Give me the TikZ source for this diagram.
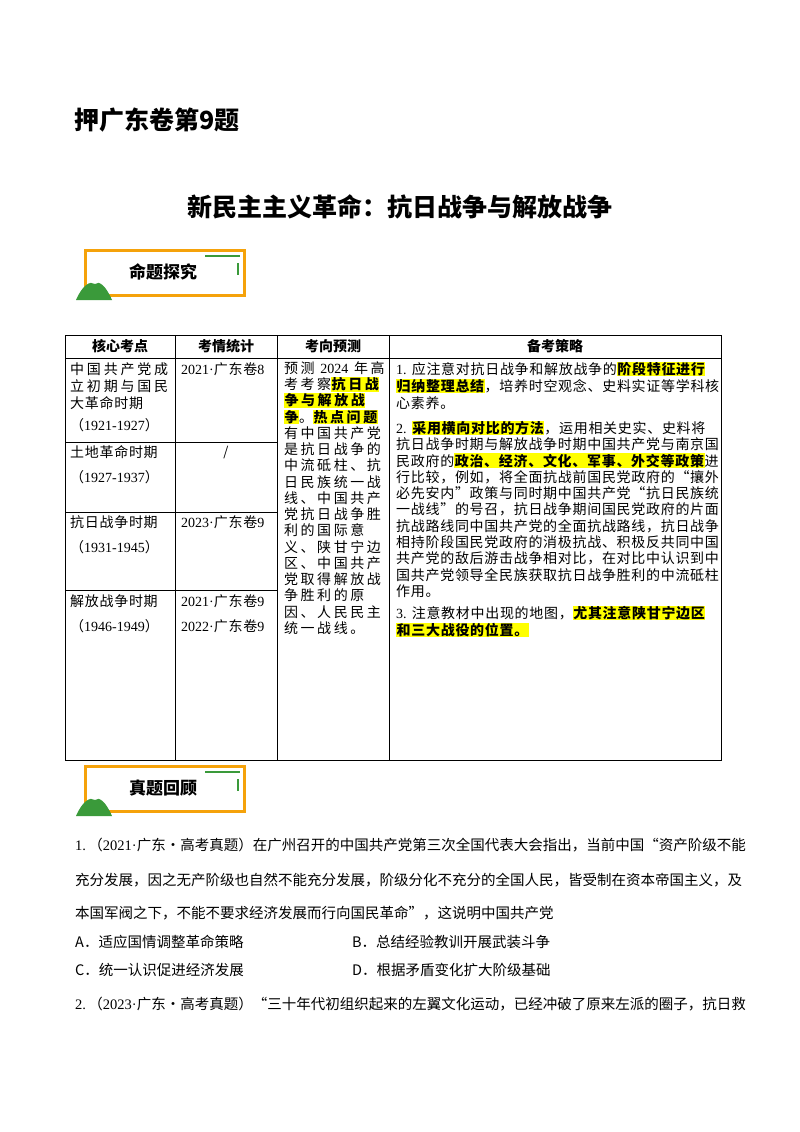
\documentclass[tikz,border=0pt]{standalone}
\usepackage{fontspec}
\setmainfont{Noto Sans CJK SC}
\newfontfamily\serifnum{Liberation Serif}
\newfontfamily\tfa[LetterSpace=5]{Noto Sans CJK SC}
\newfontfamily\tfb[LetterSpace=18]{Noto Sans CJK SC}
\newfontfamily\tfc[LetterSpace=20]{Noto Sans CJK SC}
\usepackage{xcolor}
\definecolor{badgeorange}{HTML}{F5A20A}
\definecolor{badgegreen}{HTML}{3A9A3A}
\definecolor{hly}{HTML}{FFFF00}
\newcommand{\hy}[1]{{\setlength{\fboxsep}{0.5pt}\colorbox{hly}{\bfseries #1}}}
\tikzset{
  tl/.style={anchor=west,inner sep=0pt,font=\fontsize{14}{16}\selectfont\tfa},
  tlb/.style={anchor=west,inner sep=0pt,font=\fontsize{14}{16}\selectfont\tfb},
  tlc/.style={anchor=west,inner sep=0pt,font=\fontsize{14}{16}\selectfont\tfc},
  bl/.style={anchor=west,inner sep=0pt,font=\fontsize{14.5}{18}\selectfont},
  hd/.style={anchor=center,inner sep=0pt,font=\fontsize{14}{16}\selectfont\bfseries},
  grid/.style={draw=black,line width=0.7pt},
}
\begin{document}
\begin{tikzpicture}[x=1pt,y=-1pt]
\useasboundingbox (0,0) rectangle (800,1132);
\fill[white] (0,0) rectangle (800,1132);
\node[anchor=west,inner sep=0pt,font=\fontsize{25}{30}\selectfont\bfseries] (title) at (74,120) {押广东卷第9题};
\node[anchor=center,inner sep=0pt,font=\fontsize{25}{30}\selectfont\bfseries] (sub) at (400,207) {新民主主义革命：抗日战争与解放战争};
% badges
\foreach \y/\t/\n in {250/命题探究/b1,766/真题回顾/b2}{
  \draw[badgeorange,line width=3pt] (85,\y) rectangle (244,\y+45);
  \fill[badgegreen] (76,\y+50) .. controls (82,\y+36) and (90,\y+30) .. (95,\y+34) .. controls (99,\y+30) and (106,\y+36) .. (112,\y+50) -- cycle;
  \draw[badgegreen,line width=1.5pt] (205,\y+6) -- (240,\y+6);
  \draw[badgegreen,line width=1.5pt] (238,\y+13) -- (238,\y+25);
  \node[anchor=center,inner sep=0pt,font=\fontsize{17}{20}\selectfont\bfseries] (\n) at (163,\y+22) {\t};
}
% table grid
\draw[grid] (65,335) rectangle (721,760);
\draw[grid] (65,358) -- (721,358);
\foreach \x in {175,277,389} \draw[grid] (\x,335) -- (\x,760);
\foreach \y in {442,512,590} \draw[grid] (65,\y) -- (277,\y);
\node[hd] (h1) at (120,346) {核心考点};
\node[hd] (h2) at (226,346) {考情统计};
\node[hd] (h3) at (333,346) {考向预测};
\node[hd] (h4) at (555,346) {备考策略};
% col1
\node[tlc] (c1a) at (70,369) {中国共产党成};
\node[tlc] at (70,386) {立初期与国民};
\node[tl] at (70,403) {大革命时期};
\node[tl] at (70,425) {（{\serifnum 1921-1927}）};
\node[tl] at (70,452) {土地革命时期};
\node[tl] at (70,477) {（{\serifnum 1927-1937}）};
\node[tl] at (70,522) {抗日战争时期};
\node[tl] at (70,547) {（{\serifnum 1931-1945}）};
\node[tl] at (70,601) {解放战争时期};
\node[tl] at (70,626) {（{\serifnum 1946-1949}）};
% col2
\node[tl] at (181,369) {{\serifnum 2021·}广东卷{\serifnum 8}};
\node[anchor=center,inner sep=0pt,font=\fontsize{13}{16}\selectfont] at (226,452) {/};
\node[tl] at (181,522) {{\serifnum 2023·}广东卷{\serifnum 9}};
\node[tl] at (181,601) {{\serifnum 2021·}广东卷{\serifnum 9}};
\node[tl] at (181,626) {{\serifnum 2022·}广东卷{\serifnum 9}};
% col3
\foreach \i/\t in {0/{预测 {\serifnum 2024} 年高},1/{考考察\hy{抗日战}},2/{\hy{争与解放战}},3/{\hy{争}。\hy{热点问题}},4/有中国共产党,5/是抗日战争的,6/中流砥柱、抗,7/日民族统一战,8/线、中国共产,9/党抗日战争胜,10/利的国际意,11/义、陕甘宁边,12/区、中国共产,13/党取得解放战,14/争胜利的原,15/因、人民民主,16/统一战线。}
  \node[tlb] at (284,368+16.25*\i) {\t};
% col4
\node[tl] (d1) at (396,369) {{\serifnum 1.} 应注意对抗日战争和解放战争的\hy{阶段特征进行}};
\node[tl] at (396,386) {\hy{归纳整理总结}，培养时空观念、史料实证等学科核};
\node[tl] at (396,403) {心素养。};
\foreach \i/\t in {0/{{\serifnum 2.} \hy{采用横向对比的方法}，运用相关史实、史料将},1/抗日战争时期与解放战争时期中国共产党与南京国,2/{民政府的\hy{政治、经济、文化、军事、外交等政策}进},3/行比较，例如，将全面抗战前国民党政府的“攘外,4/必先安内”政策与同时期中国共产党“抗日民族统,5/一战线”的号召，抗日战争期间国民党政府的片面,6/抗战路线同中国共产党的全面抗战路线，抗日战争,7/相持阶段国民党政府的消极抗战、积极反共同中国,8/共产党的敌后游击战争相对比，在对比中认识到中,9/国共产党领导全民族获取抗日战争胜利的中流砥柱,10/作用。}
  \node[tl] at (396,428+16.3*\i) {\t};
\node[tl] at (396,613) {{\serifnum 3.} 注意教材中出现的地图，\hy{尤其注意陕甘宁边区}};
\node[tl] at (396,630) {\hy{和三大战役的位置。}};
% body
\node[bl] (q1) at (75,845) {{\serifnum 1.}\,（{\serifnum 2021·}广东·高考真题）在广州召开的中国共产党第三次全国代表大会指出，当前中国“资产阶级不能};
\node[bl] at (75,880) {充分发展，因之无产阶级也自然不能充分发展，阶级分化不充分的全国人民，皆受制在资本帝国主义，及};
\node[bl] at (75,913) {本国军阀之下，不能不要求经济发展而行向国民革命”，这说明中国共产党};
\node[bl] at (75,942) {A．适应国情调整革命策略};
\node[bl] at (352,942) {B．总结经验教训开展武装斗争};
\node[bl] at (75,970) {C．统一认识促进经济发展};
\node[bl] at (352,970) {D．根据矛盾变化扩大阶级基础};
\node[bl] at (75,1004) {{\serifnum 2.}\,（{\serifnum 2023·}广东·高考真题）“三十年代初组织起来的左翼文化运动，已经冲破了原来左派的圈子，抗日救};
\end{tikzpicture}
\end{document}
